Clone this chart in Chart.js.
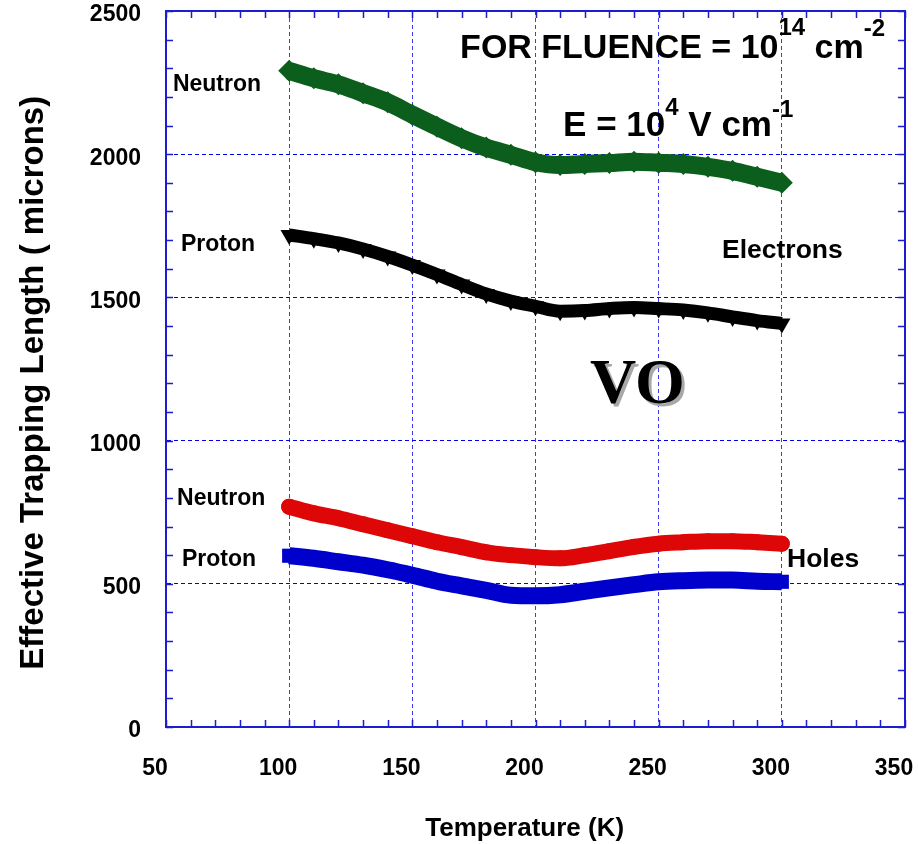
<!DOCTYPE html>
<html><head><meta charset="utf-8">
<script src="https://cdn.jsdelivr.net/npm/chart.js@4/dist/chart.umd.min.js"></script>
<style>html,body{margin:0;padding:0;background:#fff}canvas{display:block}</style>
</head><body>
<canvas id="c" width="918" height="844"></canvas>
<script>
// ---- data ----
const temperatures = [100,110,120,130,140,150,160,170,180,190,200,210,220,230,240,250,260,270,280,290,300];
const neutronElectrons = [2291,2265,2244,2213,2181,2138,2096,2056,2023,1998,1972,1962,1966,1969,1974,1970,1966,1956,1942,1921,1900];
const protonElectrons  = [1718,1705,1690,1669,1643,1613,1580,1545,1512,1487,1469,1452,1454,1461,1465,1461,1456,1446,1432,1419,1409];
const neutronHoles     = [769,746,729,708,687,666,645,628,610,600,593,589,600,614,629,640,645,649,649,645,640];
const protonHoles      = [598,589,577,565,549,530,509,493,477,460,458,462,474,486,497,507,511,513,513,509,507];
const xTickLabels = [50,100,150,200,250,300,350];
const yTickLabels = [0,500,1000,1500,2000,2500];
const xMinorStep = 10;
const yMinorStep = 100;

const SANS = "'Liberation Sans', Arial, Helvetica, sans-serif";
const SERIF = "'Liberation Serif', 'Times New Roman', serif";
const BLUE = '#1c1cd0';

function pts(vals){ return temperatures.map((t,i)=>({x:t,y:vals[i]})); }

// text annotations (position in data units)
const notes = [
  {x:169.4, y:2336, parts:[{t:'FOR FLUENCE = 10',s:34},{t:'14',s:24,r:23},{t:' cm',s:34},{t:'-2',s:24,r:22}]},
  {x:211.2, y:2064, parts:[{t:'E = 10',s:35},{t:'4',s:24,r:21},{t:' V cm',s:35},{t:'-1',s:24,r:19}]},
  {x:52.8,  y:2221, parts:[{t:'Neutron',s:23}]},
  {x:56.1,  y:1663, parts:[{t:'Proton',s:23}]},
  {x:275.7, y:1639, parts:[{t:'Electrons',s:26.5}]},
  {x:54.5,  y:774,  parts:[{t:'Neutron',s:23}]},
  {x:56.5,  y:561,  parts:[{t:'Proton',s:23}]},
  {x:302.1, y:558,  parts:[{t:'Holes',s:26.5}]}
];
const bigLabel = {x:222.1, y:1133, t:'VO', s:64};

const framePlugin = {
  id:'frame',
  beforeDatasetsDraw(chart){
    const {ctx, chartArea:a, scales:{x, y}} = chart;
    ctx.save();
    ctx.strokeStyle = BLUE; ctx.lineWidth = 1.5;
    ctx.beginPath();
    for (let v = x.min; v <= x.max + 1e-9; v += xMinorStep){
      const p = Math.round(x.getPixelForValue(v)) + 0.5;
      ctx.moveTo(p, a.bottom); ctx.lineTo(p, a.bottom - 7);
      ctx.moveTo(p, a.top); ctx.lineTo(p, a.top + 7);
    }
    for (let v = y.min; v <= y.max + 1e-9; v += yMinorStep){
      const p = Math.round(y.getPixelForValue(v)) + 0.5;
      ctx.moveTo(a.left, p); ctx.lineTo(a.left + 7, p);
      ctx.moveTo(a.right, p); ctx.lineTo(a.right - 7, p);
    }
    ctx.stroke();
    ctx.lineWidth = 2;
    ctx.strokeRect(a.left, a.top, a.right - a.left, a.bottom - a.top);
    ctx.restore();
  },
  afterDatasetsDraw(chart){
    const {ctx, scales:{x, y}} = chart;
    ctx.save();
    ctx.fillStyle = '#000';
    ctx.textBaseline = 'alphabetic';
    ctx.textAlign = 'left';
    for (const n of notes){
      let px = x.getPixelForValue(n.x);
      const py = y.getPixelForValue(n.y);
      for (const p of n.parts){
        ctx.font = 'bold ' + p.s + 'px ' + SANS;
        ctx.fillText(p.t, px, py - (p.r || 0));
        px += ctx.measureText(p.t).width;
      }
    }
    const bx = x.getPixelForValue(bigLabel.x), by = y.getPixelForValue(bigLabel.y);
    ctx.font = 'bold ' + bigLabel.s + 'px ' + SERIF;
    ctx.fillStyle = '#a8a8a8';
    ctx.fillText(bigLabel.t, bx + 3, by + 3);
    ctx.fillStyle = '#000';
    ctx.fillText(bigLabel.t, bx, by);
    ctx.restore();
  }
};

function zeroPad(s){ s.paddingTop = 0; s.paddingBottom = 0; s.paddingLeft = 0; s.paddingRight = 0; }

new Chart(document.getElementById('c'), {
  type: 'line',
  data: {
    datasets: [
      { label:'Neutron electrons', data: pts(neutronElectrons), borderColor:'#0b5e1c', backgroundColor:'#0b5e1c',
        borderWidth:18, pointStyle:'rectRot', pointRadius:11, pointBorderWidth:0, cubicInterpolationMode:'monotone', clip:false },
      { label:'Proton electrons', data: pts(protonElectrons), borderColor:'#000000', backgroundColor:'#000000',
        borderWidth:13, pointStyle:'triangle', pointRotation:180, pointRadius:10, pointBorderWidth:0, cubicInterpolationMode:'monotone', clip:false },
      { label:'Neutron holes', data: pts(neutronHoles), borderColor:'#de0707', backgroundColor:'#de0707',
        borderWidth:16, borderCapStyle:'round', pointStyle:'circle', pointRadius:8, pointBorderWidth:0, cubicInterpolationMode:'monotone', clip:false },
      { label:'Proton holes', data: pts(protonHoles), borderColor:'#0000cc', backgroundColor:'#0000cc',
        borderWidth:17, borderCapStyle:'butt', pointStyle:'rect', pointRadius:10, pointBorderWidth:0, cubicInterpolationMode:'monotone', clip:false }
    ]
  },
  options: {
    responsive:false, animation:false, events:[],
    layout:{ padding:{ top:10, right:13, left:0, bottom:0 } },
    plugins:{ legend:{display:false}, tooltip:{enabled:false} },
    scales:{
      x:{ type:'linear', min:50, max:350,
        afterBuildTicks(s){ s.ticks = xTickLabels.map(v=>({value:v})); },
        afterFit(s){ s.height = 117; zeroPad(s); },
        grid:{ color:'#3c3cf5', lineWidth:1, drawTicks:false },
        border:{ display:true, color:BLUE, width:2, dash:[4,3] },
        ticks:{ color:'#000', font:{family:SANS, size:23, weight:'bold'}, padding:28, labelOffset:-11, maxRotation:0, autoSkip:false,
                callback:(v)=>String(v) },
        title:{ display:true, text:'Temperature (K)   ', color:'#000', font:{family:SANS, size:26, weight:'bold'}, padding:{top:0, bottom:0} }
      },
      y:{ type:'linear', min:0, max:2500,
        afterBuildTicks(s){ s.ticks = yTickLabels.map(v=>({value:v})); },
        afterFit(s){ s.width = 166; zeroPad(s); },
        grid:{ color:'#0000f5', lineWidth:1, drawTicks:false },
        border:{ display:true, color:BLUE, width:2, dash:[4,3] },
        ticks:{ color:'#000', font:{family:SANS, size:23, weight:'bold'}, padding:25, labelOffset:4, autoSkip:false,
                callback:(v)=>String(v) },
        title:{ display:true, text:'Effective Trapping Length ( microns)   ', color:'#000', font:{family:SANS, size:33, weight:'bold'}, padding:{top:14, bottom:0} }
      }
    }
  },
  plugins:[framePlugin]
});
</script>
</body></html>
